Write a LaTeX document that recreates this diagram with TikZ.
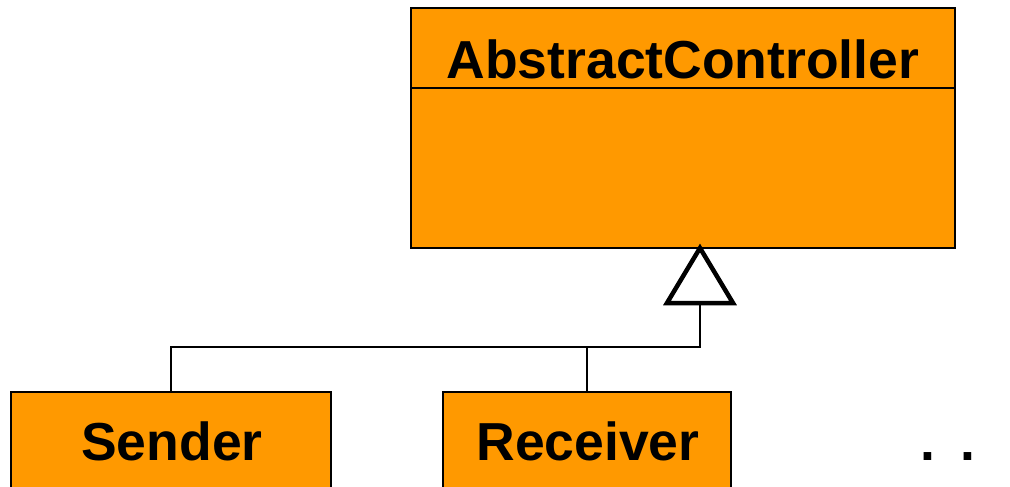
\documentclass[tikz,border=0pt]{standalone}
\usepackage{fontspec}
\setmainfont{Liberation Sans}
\definecolor{umlorange}{HTML}{FF9900}
\begin{document}
\begin{tikzpicture}[x=1pt,y=-1pt,
  classbox/.style={draw=black, fill=umlorange, line width=2pt},
  label/.style={font=\fontsize{53.5}{60}\selectfont\bfseries, anchor=base},
  conn/.style={draw=black, line width=2pt},
  inherit/.style={draw=black, line width=4.5pt, fill=white, line join=miter}]
\useasboundingbox (0,0) rectangle (1010,487);
% AbstractController
\path[classbox] (411,8) rectangle (955,248);
\draw[line width=2pt] (411,88) -- (955,88);
\node[label] (ac) at (683,78) {AbstractController};
% Sender
\path[classbox] (11,392) rectangle (331,500);
\node[label] (sender) at (172,460) {Sender};
% Receiver
\path[classbox] (443,392) rectangle (731,500);
\node[label] (receiver) at (588,460) {Receiver};
% more
\node[label] (more) at (948,460) {.\hspace{0.48em}.};
% connectors
\coordinate (tipA) at (700,248);
\coordinate (tipB) at (700,303);
\coordinate (join) at (700,347);
\coordinate (sTop) at (171,392);
\coordinate (rTop) at (587,392);
\draw[conn] (tipB) -- (join) -| (sTop);
\draw[conn] (587,347) -- (rTop);
\path[inherit] (tipA) -- (733,303) -- (667,303) -- cycle;
\end{tikzpicture}
\end{document}
